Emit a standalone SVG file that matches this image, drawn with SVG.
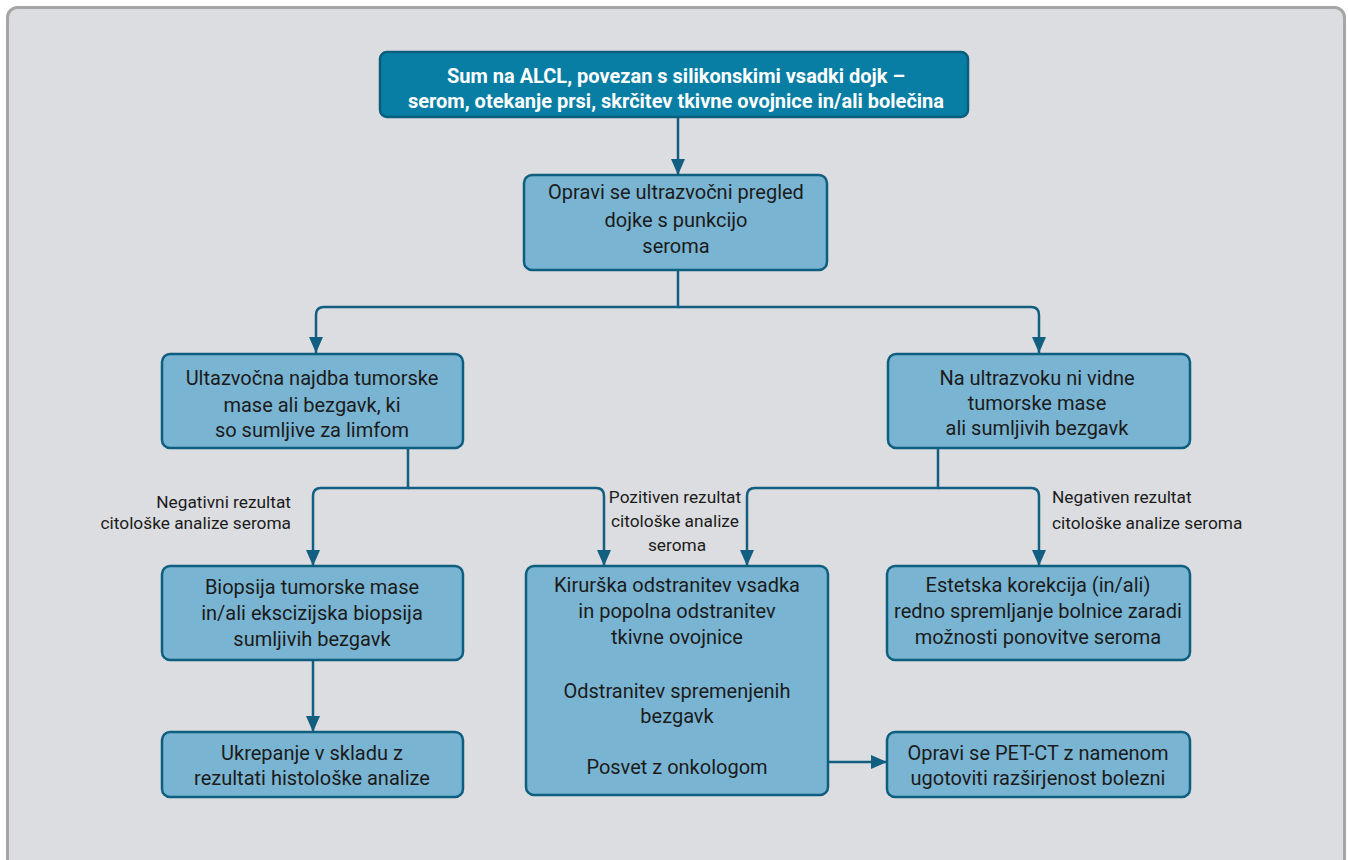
<svg xmlns="http://www.w3.org/2000/svg" width="1348" height="860" viewBox="0 0 1348 860">
<style>
.box{fill:#79b4d2;stroke:#0e5e7f;stroke-width:2.5}
.top{fill:#087ea4;stroke:#0b5d7c;stroke-width:2.5}
.t{font-family:Roboto,"Liberation Sans",sans-serif;font-size:20px;fill:#1b1b1b;text-anchor:middle}
.tw{font-family:Roboto,"Liberation Sans",sans-serif;font-size:20px;font-weight:bold;fill:#ffffff;text-anchor:middle}
.lb{font-family:Roboto,"Liberation Sans",sans-serif;font-size:17.3px;fill:#1b1b1b}
.c{fill:none;stroke:#135f81;stroke-width:2.5}
</style>
<defs>
<marker id="ah" markerUnits="userSpaceOnUse" markerWidth="16" markerHeight="14" refX="16" refY="7" orient="auto">
<path d="M0,0 L16,7 L0,14 z" fill="#135f81"/>
</marker>
</defs>
<rect x="0" y="0" width="1348" height="860" fill="#ffffff"/>
<rect x="7.5" y="7.5" width="1337" height="880" rx="10" fill="#dcdde0" stroke="#a5a5a5" stroke-width="3"/>

<g id="connectors">
<path class="c" d="M678,117 V175" marker-end="url(#ah)"/>
<path class="c" d="M678,270 V307 H324 Q316,307 316,315 V353" marker-end="url(#ah)"/>
<path class="c" d="M678,307 H1031 Q1039,307 1039,315 V353" marker-end="url(#ah)"/>
<path class="c" d="M408,448 V488 H321 Q313,488 313,496 V566" marker-end="url(#ah)"/>
<path class="c" d="M408,488 H596 Q604,488 604,496 V566" marker-end="url(#ah)"/>
<path class="c" d="M938,448 V488 H755 Q747,488 747,496 V566" marker-end="url(#ah)"/>
<path class="c" d="M938,488 H1031 Q1039,488 1039,496 V566" marker-end="url(#ah)"/>
<path class="c" d="M313,660 V732" marker-end="url(#ah)"/>
<path class="c" d="M828,762 H887" marker-end="url(#ah)"/>
<text class="lb" x="291" y="508" text-anchor="end">Negativni rezultat</text>
<text class="lb" x="291" y="529" text-anchor="end">citološke analize seroma</text>
<text class="lb" x="675" y="503" text-anchor="middle">Pozitiven rezultat</text>
<text class="lb" x="675" y="527" text-anchor="middle">citološke analize</text>
<text class="lb" x="677" y="551" text-anchor="middle">seroma</text>
<text class="lb" x="1052" y="503">Negativen rezultat</text>
<text class="lb" x="1052" y="529">citološke analize seroma</text>
</g>

<g id="n-top">
<rect class="top" x="380" y="52" width="588" height="65" rx="7"/>
<text class="tw" x="676" y="83">Sum na ALCL, povezan s silikonskimi vsadki dojk –</text>
<text class="tw" x="676" y="108">serom, otekanje prsi, skrčitev tkivne ovojnice in/ali bolečina</text>
</g>

<g id="n-ultra">
<rect class="box" x="524" y="175" width="303" height="95" rx="8"/>
<text class="t" x="676" y="199">Opravi se ultrazvočni pregled</text>
<text class="t" x="676" y="227">dojke s punkcijo</text>
<text class="t" x="676" y="253">seroma</text>
</g>

<g id="n-found">
<rect class="box" x="162" y="354" width="301" height="94" rx="8"/>
<text class="t" x="312" y="385">Ultazvočna najdba tumorske</text>
<text class="t" x="312" y="412">mase ali bezgavk, ki</text>
<text class="t" x="312" y="437">so sumljive za limfom</text>
</g>

<g id="n-notfound">
<rect class="box" x="888" y="354" width="302" height="94" rx="8"/>
<text class="t" x="1037" y="385">Na ultrazvoku ni vidne</text>
<text class="t" x="1037" y="410">tumorske mase</text>
<text class="t" x="1037" y="435">ali sumljivih bezgavk</text>
</g>

<g id="n-biopsy">
<rect class="box" x="162" y="566" width="301" height="94" rx="8"/>
<text class="t" x="312" y="594">Biopsija tumorske mase</text>
<text class="t" x="312" y="620">in/ali ekscizijska biopsija</text>
<text class="t" x="312" y="646">sumljivih bezgavk</text>
</g>

<g id="n-act">
<rect class="box" x="162" y="732" width="301" height="65" rx="8"/>
<text class="t" x="312" y="760">Ukrepanje v skladu z</text>
<text class="t" x="312" y="785">rezultati histološke analize</text>
</g>

<g id="n-surgery">
<rect class="box" x="526" y="566" width="302" height="229" rx="8"/>
<text class="t" x="677" y="592">Kirurška odstranitev vsadka</text>
<text class="t" x="677" y="618">in popolna odstranitev</text>
<text class="t" x="677" y="644">tkivne ovojnice</text>
<text class="t" x="677" y="698">Odstranitev spremenjenih</text>
<text class="t" x="677" y="723">bezgavk</text>
<text class="t" x="677" y="774">Posvet z onkologom</text>
</g>

<g id="n-aesthetic">
<rect class="box" x="887" y="566" width="303" height="94" rx="8"/>
<text class="t" x="1038" y="592">Estetska korekcija (in/ali)</text>
<text class="t" x="1038" y="618">redno spremljanje bolnice zaradi</text>
<text class="t" x="1038" y="644">možnosti ponovitve seroma</text>
</g>

<g id="n-pet">
<rect class="box" x="887" y="732" width="303" height="65" rx="8"/>
<text class="t" x="1038" y="760">Opravi se PET-CT z namenom</text>
<text class="t" x="1038" y="785">ugotoviti razširjenost bolezni</text>
</g>
</svg>
